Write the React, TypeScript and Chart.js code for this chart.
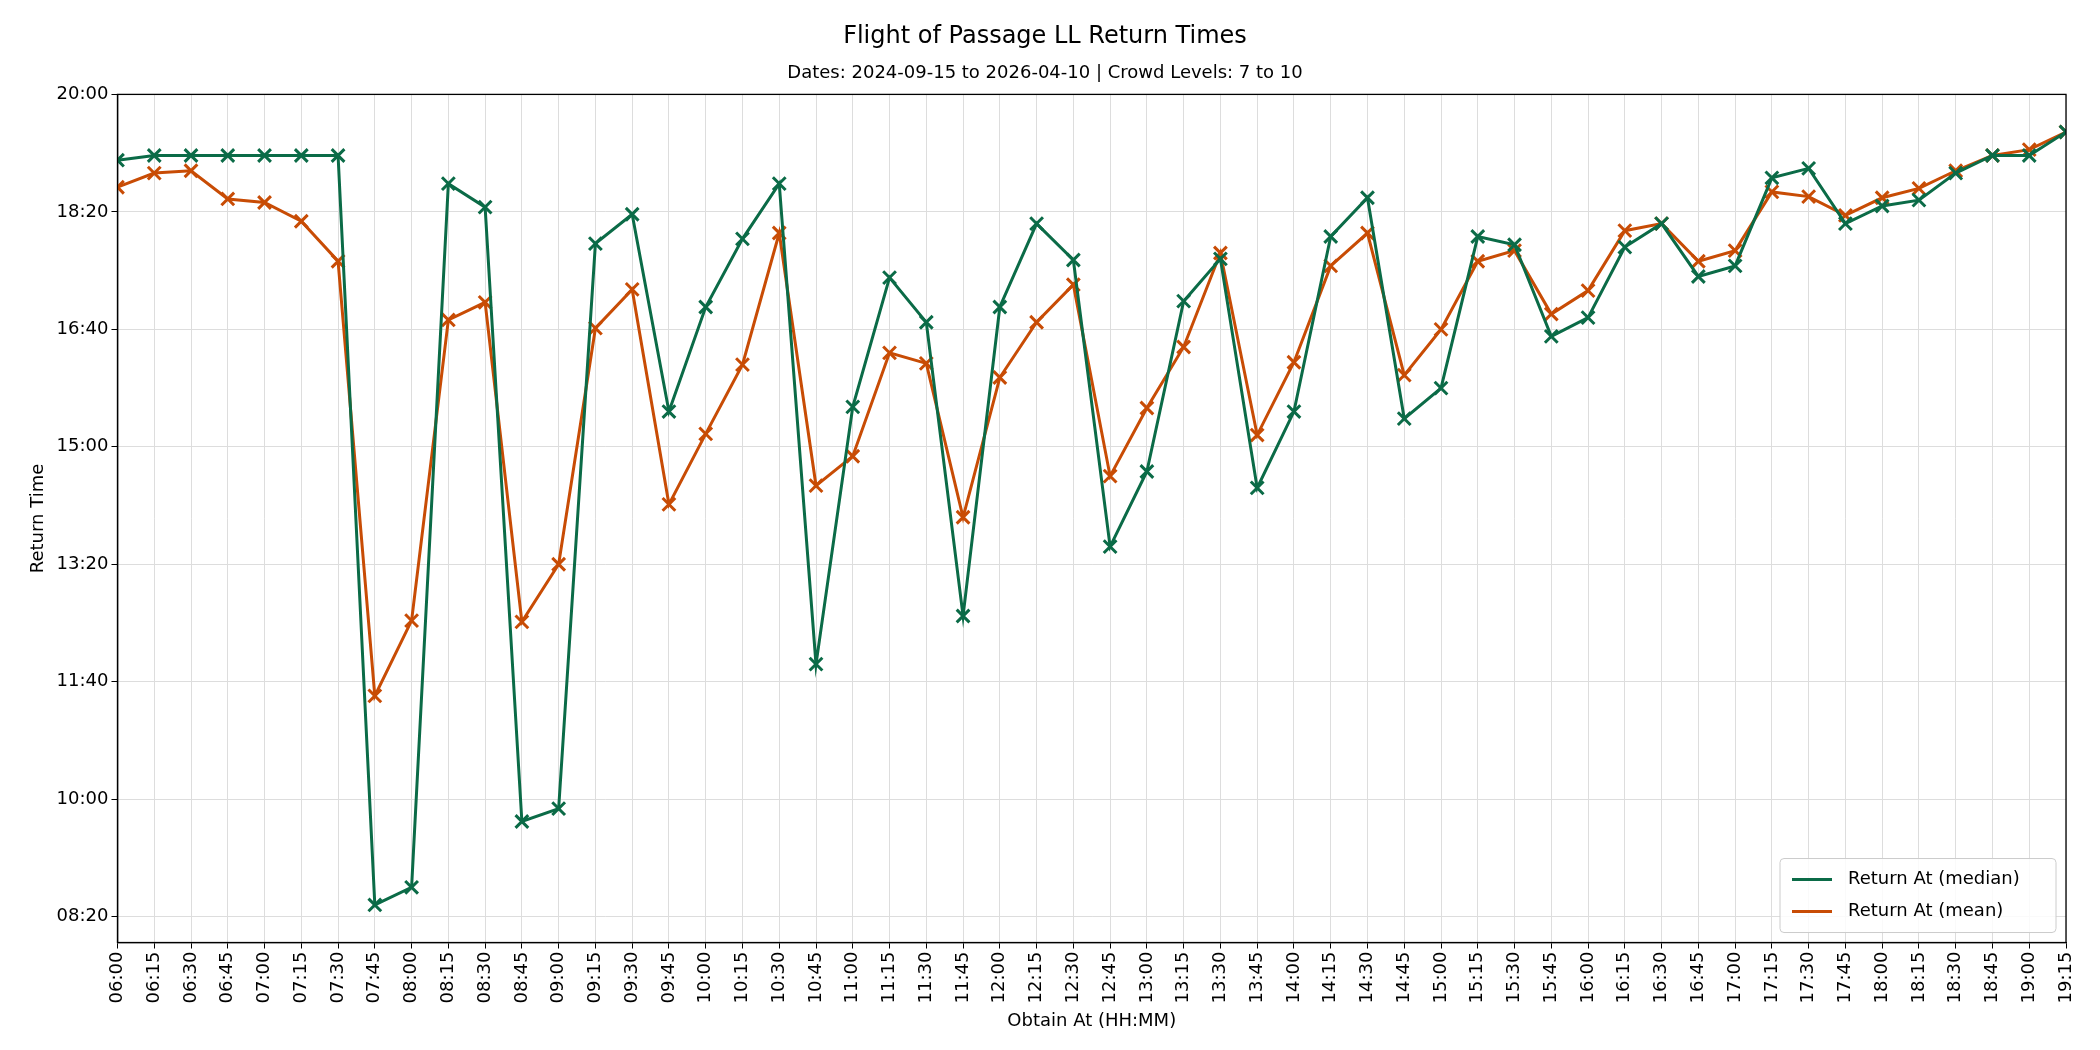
import React, { useEffect, useRef } from "react";
import { Chart, registerables } from "chart.js";
Chart.register(...registerables);

const obtainTimes: number[] = [];
for (let m = 360; m <= 1155; m += 15) obtainTimes.push(m);

const medianReturn = [1144,1148,1148,1148,1148,1148,1148,510,525,1124,1104,581,592,1073,1098,930,1019,1077,1124,715,934,1044,1006,756,1019,1090,1059,815,879,1024,1060,865,930,1079,1112,924,950,1079,1072,994,1010,1070,1090,1045,1054,1129,1137,1090,1105,1110,1133,1148,1148,1168];
const meanReturn = [1121,1133,1135,1111,1108,1092,1058,688,752,1008,1023,751,800,1001,1034,851,911,970,1082,867,892,980,971,840,959,1006,1038,875,933,985,1065,910,972,1054,1082,961,1000,1058,1067,1013,1033,1084,1090,1058,1067,1117,1113,1097,1112,1120,1135,1148,1153,1168];
const yTicks = [500, 600, 700, 800, 900, 1000, 1100, 1200];

const GREEN = "#0b6b47";
const ORANGE = "#c84c05";
const fmt = (v: number) => {
  const h = Math.floor(v / 60), m = Math.round(v % 60);
  return String(h).padStart(2, "0") + ":" + String(m).padStart(2, "0");
};
const FONT = "'DejaVu Sans', sans-serif";

export default function App() {
  const ref = useRef<HTMLCanvasElement>(null);
  useEffect(() => {
    document.body.style.margin = "0";
    const legendPlugin = {
      id: "boxLegend",
      afterDraw(chart: any) {
        const { ctx, chartArea } = chart;
        const w = 276, h = 74;
        const x = chartArea.right - w - 10, y = chartArea.bottom - h - 10;
        ctx.save();
        ctx.fillStyle = "rgba(255,255,255,0.85)";
        ctx.strokeStyle = "#cccccc";
        ctx.lineWidth = 1;
        ctx.beginPath();
        ctx.roundRect(x, y, w, h, 4);
        ctx.fill();
        ctx.stroke();
        const items = [["Return At (median)", GREEN], ["Return At (mean)", ORANGE]];
        ctx.font = `18px ${FONT}`;
        ctx.textBaseline = "middle";
        items.forEach(([label, c], i) => {
          const cy = y + 21 + i * 32;
          ctx.strokeStyle = c;
          ctx.lineWidth = 3;
          ctx.beginPath();
          ctx.moveTo(x + 12, cy);
          ctx.lineTo(x + 52, cy);
          ctx.stroke();
          ctx.fillStyle = "#000";
          ctx.fillText(label, x + 68, cy);
        });
        ctx.restore();
      },
    };
    const mk = (label: string, vals: number[], c: string) => ({
      label,
      data: obtainTimes.map((t, i) => ({ x: t, y: vals[i] })),
      borderColor: c,
      backgroundColor: c,
      borderWidth: 3,
      pointStyle: "crossRot" as const,
      pointRadius: 9,
      pointBorderWidth: 3,
      tension: 0,
    });
    const chart = new Chart(ref.current!, {
      type: "line",
      data: { datasets: [mk("Return At (median)", medianReturn, GREEN), mk("Return At (mean)", meanReturn, ORANGE)] },
      options: {
        animation: false,
        responsive: false,
        layout: { padding: { left: 24, right: 34, top: 16, bottom: 14 } },
        plugins: {
          legend: { display: false },
          tooltip: { enabled: false },
          title: { display: true, text: "Flight of Passage LL Return Times", color: "#000", font: { family: FONT, size: 24, weight: "normal" }, padding: { top: 6, bottom: 12 } },
          subtitle: { display: true, text: "Dates: 2024-09-15 to 2026-04-10 | Crowd Levels: 7 to 10", color: "#000", font: { family: FONT, size: 18 }, padding: { bottom: 10 } },
        },
        scales: {
          x: {
            type: "linear",
            min: 360,
            max: 1155,
            afterBuildTicks: (s: any) => { s.ticks = obtainTimes.map((v) => ({ value: v })); },
            ticks: { callback: (v: any) => fmt(Number(v)), minRotation: 90, maxRotation: 90, color: "#000", font: { family: FONT, size: 18 }, autoSkip: false },
            grid: { color: "#dddddd", tickColor: "#000", tickLength: 6 },
            border: { color: "#000", width: 1.3 },
            title: { display: true, text: "Obtain At (HH:MM)", color: "#000", font: { family: FONT, size: 18 } },
          },
          y: {
            type: "linear",
            min: 478,
            max: 1200,
            afterBuildTicks: (s: any) => { s.ticks = yTicks.map((v) => ({ value: v })); },
            ticks: { callback: (v: any) => fmt(Number(v)), color: "#000", font: { family: FONT, size: 18 } },
            grid: { color: "#dddddd", tickColor: "#000", tickLength: 6 },
            border: { color: "#000", width: 1.3 },
            title: { display: true, text: "Return Time", color: "#000", font: { family: FONT, size: 18 } },
          },
        },
      },
      plugins: [legendPlugin, {
        id: "frame",
        afterDraw(chart: any) {
          const { ctx, chartArea: a } = chart;
          ctx.save();
          ctx.strokeStyle = "#000";
          ctx.lineWidth = 1.3;
          ctx.strokeRect(a.left, a.top, a.right - a.left, a.bottom - a.top);
          ctx.restore();
        },
      }],
    });
    return () => chart.destroy();
  }, []);
  return <canvas ref={ref} width={2100} height={1050} style={{ display: "block", background: "#fff" }} />;
}
